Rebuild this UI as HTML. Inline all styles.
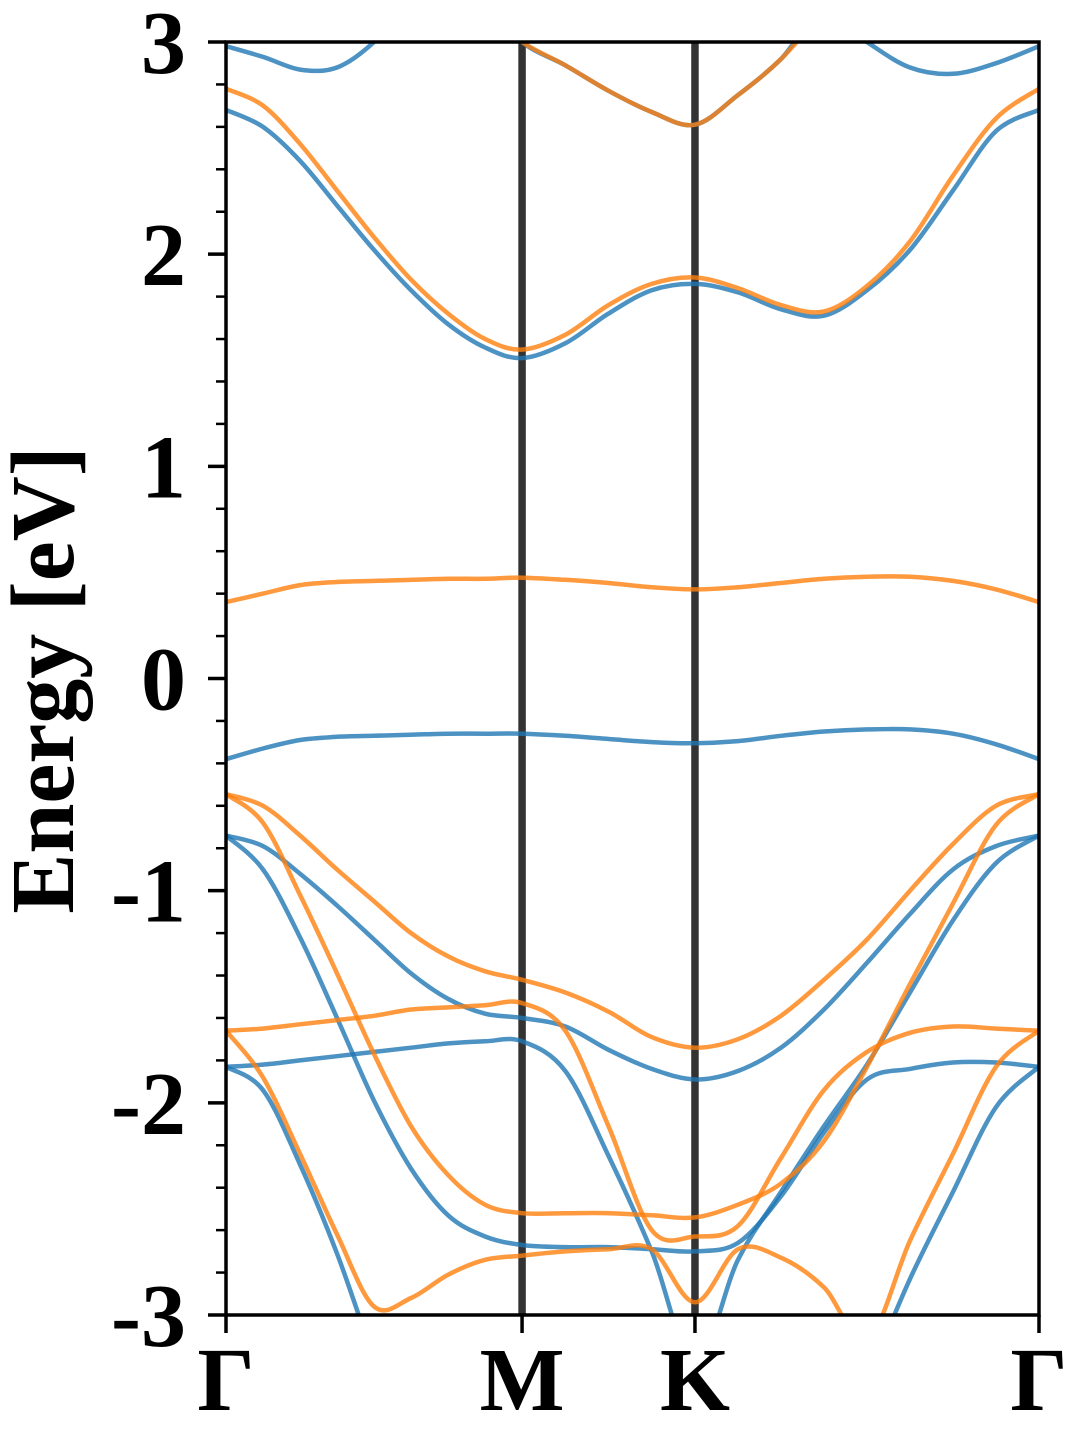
<!DOCTYPE html>
<html><head><meta charset="utf-8"><style>
html,body{margin:0;padding:0;background:#fff;}
svg{display:block;font-family:"Liberation Serif",serif;font-weight:bold;}
</style></head><body>
<svg id="chart" width="1080" height="1440" viewBox="0 0 1080 1440" xmlns="http://www.w3.org/2000/svg">
<defs><clipPath id="plotclip"><rect x="226" y="42" width="813" height="1273"/></clipPath></defs>
<g id="vlines"></g>
<g id="bands" clip-path="url(#plotclip)"></g>
<g id="axes"></g>
<text transform="translate(73,680) rotate(-90)" text-anchor="middle" font-size="90">Energy [eV]</text>
</svg>
<script>
const kTicks = [0, 1, 1.584, 2.746];
const kLabels = ['Γ','M','K','Γ'];
const yTicks = [-3,-2,-1,0,1,2,3];
const yMinor = [-2.8,-2.6,-2.4,-2.2,-1.8,-1.6,-1.4,-1.2,-0.8,-0.6,-0.4,-0.2,0.2,0.4,0.6,0.8,1.2,1.4,1.6,1.8,2.2,2.4,2.6,2.8];
const blueTop = [2.98,2.93,2.87,2.88,3.0,3.2,3.3,3.2,3.0,2.89,2.77,2.67,2.61,2.75,2.92,3.15,3.0,2.88,2.85,2.90,2.98];
const orangeTop = [3.5,3.5,3.5,3.5,3.5,3.4,3.3,3.15,3.0,2.89,2.77,2.67,2.61,2.75,2.92,3.15,3.4,3.5,3.5,3.5,3.5];
const blue2 = [2.68,2.60,2.44,2.23,2.02,1.83,1.67,1.56,1.51,1.58,1.72,1.83,1.86,1.82,1.74,1.71,1.83,2.02,2.30,2.58,2.68];
const orange2 = [2.78,2.70,2.52,2.30,2.08,1.88,1.72,1.60,1.55,1.62,1.76,1.86,1.89,1.84,1.76,1.73,1.85,2.06,2.37,2.64,2.78];
const orangeFlat = [0.36,0.40,0.44,0.455,0.46,0.465,0.47,0.47,0.475,0.465,0.45,0.43,0.42,0.43,0.45,0.47,0.48,0.48,0.46,0.42,0.36];
const blueFlat = [-0.38,-0.33,-0.29,-0.275,-0.27,-0.265,-0.26,-0.26,-0.26,-0.27,-0.285,-0.30,-0.305,-0.295,-0.27,-0.25,-0.24,-0.24,-0.26,-0.31,-0.38];
const orangeA = [-0.545,-0.60,-0.74,-0.90,-1.05,-1.20,-1.31,-1.38,-1.42,-1.48,-1.57,-1.69,-1.74,-1.70,-1.59,-1.42,-1.23,-1.00,-0.78,-0.60,-0.545];
const orangeB = [-0.545,-0.68,-1.02,-1.39,-1.77,-2.11,-2.34,-2.48,-2.52,-2.52,-2.52,-2.53,-2.54,-2.48,-2.38,-2.18,-1.83,-1.44,-1.06,-0.69,-0.545];
const orangeC = [-1.66,-1.65,-1.63,-1.61,-1.59,-1.56,-1.55,-1.54,-1.53,-1.66,-2.11,-2.60,-2.63,-2.58,-2.26,-1.94,-1.76,-1.67,-1.64,-1.65,-1.66];
const orangeD = [-1.66,-1.88,-2.24,-2.62,-2.96,-2.92,-2.81,-2.74,-2.72,-2.70,-2.69,-2.69,-2.94,-2.69,-2.73,-2.87,-3.12,-2.65,-2.24,-1.83,-1.66];
const blueA = [-0.74,-0.79,-0.92,-1.07,-1.23,-1.39,-1.51,-1.58,-1.60,-1.64,-1.75,-1.84,-1.89,-1.85,-1.74,-1.56,-1.34,-1.11,-0.90,-0.79,-0.74];
const blueB = [-0.74,-0.90,-1.22,-1.60,-1.99,-2.31,-2.53,-2.63,-2.67,-2.68,-2.68,-2.69,-2.70,-2.66,-2.44,-2.14,-1.89,-1.84,-1.81,-1.81,-1.83];
const blueC = [-1.83,-1.82,-1.80,-1.78,-1.76,-1.74,-1.72,-1.71,-1.71,-1.85,-2.25,-2.70,-3.23,-2.74,-2.42,-2.11,-1.82,-1.48,-1.14,-0.87,-0.74];
const blueD = [-1.83,-1.94,-2.29,-2.71,-3.2,-3.6,-3.8,-3.9,-3.9,-3.9,-3.9,-3.9,-3.9,-3.9,-3.8,-3.7,-3.3,-2.83,-2.42,-2.02,-1.83];
const blueBands = [blueTop, blue2, blueFlat, blueA, blueB, blueC, blueD];
const orangeBands = [orangeTop, orange2, orangeFlat, orangeA, orangeB, orangeC, orangeD];

const NS = 'http://www.w3.org/2000/svg';
const X0 = 226, X1 = 1039, Y0 = 1315, Y1 = 42;
const kMax = kTicks[kTicks.length-1];
function xs(k){ return X0 + (X1-X0)*k/kMax; }
function ys(e){ return Y0 - (Y0-Y1)*(e+3)/6; }
const kGrid = [];
[[0,8],[1,4],[2,8]].forEach(([s,n],si)=>{
  for(let i=(si===0?0:1); i<=n; i++) kGrid.push(kTicks[s] + (kTicks[s+1]-kTicks[s])*i/n);
});
function mk(tag, attrs, parent){
  const el = document.createElementNS(NS, tag);
  for (const a in attrs) el.setAttribute(a, attrs[a]);
  parent.appendChild(el); return el;
}
function pathFor(vals){
  const p = vals.map((v,i)=>[xs(kGrid[i]), ys(v)]);
  let d = 'M'+p[0][0].toFixed(1)+','+p[0][1].toFixed(1);
  for (let i=0;i<p.length-1;i++){
    const a=p[Math.max(i-1,0)], b=p[i], c=p[i+1], e=p[Math.min(i+2,p.length-1)];
    const c1=[b[0]+(c[0]-a[0])/6, b[1]+(c[1]-a[1])/6];
    const c2=[c[0]-(e[0]-b[0])/6, c[1]-(e[1]-b[1])/6];
    d += 'C'+c1[0].toFixed(1)+','+c1[1].toFixed(1)+' '+c2[0].toFixed(1)+','+c2[1].toFixed(1)+' '+c[0].toFixed(1)+','+c[1].toFixed(1);
  }
  return d;
}
const vg = document.getElementById('vlines');
[1,2].forEach(i=>{
  const l = mk('line',{x1:xs(kTicks[i]),x2:xs(kTicks[i]),y1:Y1,y2:Y0,stroke:'#333',"stroke-width":7.5},vg);
  
  
});
const bg = document.getElementById('bands');
blueBands.forEach((b,i)=>{
  const p = mk('path',{d:pathFor(b),fill:'none',stroke:'#1f77b4','stroke-opacity':0.8,'stroke-width':4.5,'stroke-linejoin':'round'},bg);
  
  
});
orangeBands.forEach((b,i)=>{
  const p = mk('path',{d:pathFor(b),fill:'none',stroke:'#ff7f0e','stroke-opacity':0.8,'stroke-width':4.5,'stroke-linejoin':'round'},bg);
  
  
});
const ag = document.getElementById('axes');
const frame = mk('rect',{x:X0,y:Y1,width:X1-X0,height:Y0-Y1,fill:'none',stroke:'#000','stroke-width':3.5},ag);


yTicks.forEach(t=>{
  const l = mk('line',{x1:X0-18,x2:X0,y1:ys(t),y2:ys(t),stroke:'#000','stroke-width':3.5},ag);
  
  
  const tx = mk('text',{x:186,y:ys(t)+31,'text-anchor':'end','font-size':90},ag);
  tx.textContent = String(t);
  
  
});
yMinor.forEach(t=>{
  const l = mk('line',{x1:X0-10,x2:X0,y1:ys(t),y2:ys(t),stroke:'#000','stroke-width':2.5},ag);
  
  
});
kTicks.forEach((k,i)=>{
  const l = mk('line',{x1:xs(k),x2:xs(k),y1:Y0,y2:Y0+18,stroke:'#000','stroke-width':3.5},ag);
  
  
  const tx = mk('text',{x:xs(k),y:1410,'text-anchor':'middle','font-size':90},ag);
  tx.textContent = kLabels[i];
  
  
});
</script>
</body></html>
